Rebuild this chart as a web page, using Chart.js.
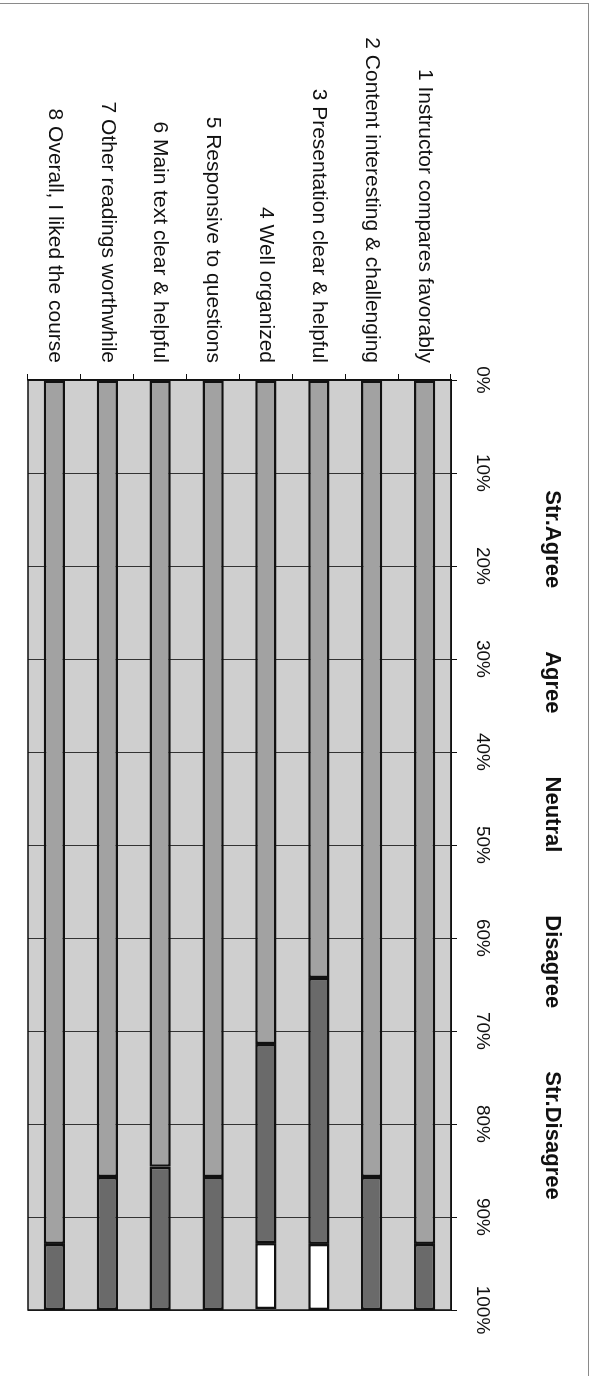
<!DOCTYPE html>
<html>
<head>
<meta charset="utf-8">
<script src="https://cdn.jsdelivr.net/npm/chart.js@4.4.1/dist/chart.umd.min.js"></script>
<style>
  html, body { margin: 0; padding: 0; background: #ffffff; }
  body { width: 594px; height: 1376px; position: relative; overflow: hidden; }
  #frame { position: absolute; left: 0; top: 3px; width: 589px; height: 1373px;
           border-top: 1px solid #8a8a8a; border-right: 1px solid #8a8a8a; box-sizing: border-box; }
  #rot { position: absolute; left: 0; top: 0; width: 1376px; height: 594px;
         transform-origin: 0 0; transform: translateX(594px) rotate(90deg); }
  canvas { display: block; }
</style>
</head>
<body>
<div id="frame"></div>
<div id="rot"><canvas id="c" width="1376" height="594"></canvas></div>
<script>
// ---- data ----
const categories = [
  "1 Instructor compares favorably",
  "2 Content interesting & challenging",
  "3 Presentation clear & helpful",
  "4 Well organized",
  "5 Responsive to questions",
  "6 Main text clear & helpful",
  "7 Other readings worthwhile",
  "8 Overall, I liked the course"
];
const seriesNames = ["Str.Agree", "Agree", "Neutral", "Disagree", "Str.Disagree"];
const strAgree    = [92.9, 85.7, 64.3, 71.4, 85.7, 84.6, 85.7, 92.9];
const agree       = [7.1, 14.3, 28.6, 21.4, 14.3, 15.4, 14.3, 7.1];
const neutral     = [0, 0, 7.1, 7.1, 0, 0, 0, 0];
const disagree    = [0, 0, 0, 0, 0, 0, 0, 0];
const strDisagree = [0, 0, 0, 0, 0, 0, 0, 0];
const tickValues  = [0, 10, 20, 30, 40, 50, 60, 70, 80, 90, 100];

// ---- layout / style constants ----
const FONT = '"Liberation Sans", Arial, Helvetica, sans-serif';
const PLOT_LEFT = 380, PLOT_TOP = 143, PAD_RIGHT = 66, PAD_BOTTOM = 28;
const LEGEND_Y = 42, LEGEND_GAP = 63;
const colors = ["#a2a2a2", "#6a6a6a", "#ffffff", "#4a4a4a", "#2a2a2a"];
const seriesValues = [strAgree, agree, neutral, disagree, strDisagree];

const plotBg = {
  id: 'plotBg',
  beforeDraw(chart) {
    const { ctx, chartArea: a } = chart;
    ctx.save();
    ctx.fillStyle = '#cfcfcf';
    ctx.fillRect(a.left, a.top, a.right - a.left, a.bottom - a.top);
    ctx.restore();
  },
  afterDraw(chart) {
    const { ctx, chartArea: a } = chart;
    ctx.save();
    ctx.strokeStyle = '#111';
    ctx.lineWidth = 1.5;
    ctx.strokeRect(a.left, a.top, a.right - a.left, a.bottom - a.top);
    ctx.restore();
  }
};

const textLegend = {
  id: 'textLegend',
  afterDraw(chart) {
    const { ctx, chartArea: a } = chart;
    ctx.save();
    ctx.font = 'bold 22px ' + FONT;
    ctx.fillStyle = '#111';
    ctx.textBaseline = 'middle';
    ctx.textAlign = 'left';
    const labels = chart.data.datasets.map(d => d.label);
    const widths = labels.map(l => ctx.measureText(l).width);
    const total = widths.reduce((s, w) => s + w, 0) + LEGEND_GAP * (labels.length - 1);
    let x = (a.left + a.right) / 2 - total / 2;
    labels.forEach((l, i) => { ctx.fillText(l, x, LEGEND_Y); x += widths[i] + LEGEND_GAP; });
    ctx.restore();
  }
};

new Chart(document.getElementById('c'), {
  type: 'bar',
  data: {
    labels: categories,
    datasets: seriesNames.map((name, i) => ({
      label: name,
      data: seriesValues[i],
      backgroundColor: colors[i],
      borderColor: '#111',
      borderWidth: 2.5,
      borderSkipped: false,
      barPercentage: 1,
      categoryPercentage: 0.4
    }))
  },
  options: {
    indexAxis: 'y',
    responsive: false,
    animation: false,
    devicePixelRatio: 1,
    layout: { padding: { left: 0, top: 0, right: PAD_RIGHT, bottom: PAD_BOTTOM } },
    plugins: { legend: { display: false }, tooltip: { enabled: false } },
    scales: {
      x: {
        stacked: true, min: 0, max: 100, position: 'top',
        afterBuildTicks(s) { s.ticks = tickValues.map(v => ({ value: v })); },
        ticks: { callback: v => v + '%', color: '#111', font: { size: 19, family: FONT },
                 padding: 14, maxRotation: 0, autoSkip: false },
        grid: { color: '#333', lineWidth: 1, tickLength: 6, tickColor: '#111', drawTicks: true },
        border: { display: true, color: '#111', width: 1.5 },
        afterFit(s) { s.height = PLOT_TOP; }
      },
      y: {
        stacked: true,
        ticks: { color: '#111', font: { size: 21, family: FONT }, padding: 11, autoSkip: false },
        grid: { drawOnChartArea: false, tickLength: 6, color: '#111', offset: true },
        border: { display: true, color: '#111', width: 1.5 },
        afterFit(s) { s.width = PLOT_LEFT; }
      }
    }
  },
  plugins: [plotBg, textLegend]
});
</script>
</body>
</html>
